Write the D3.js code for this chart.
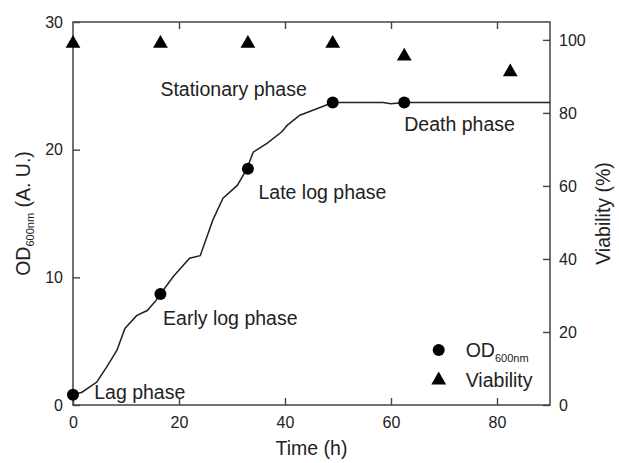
<!DOCTYPE html>
<html>
<head>
<meta charset="utf-8">
<script src="https://cdn.jsdelivr.net/npm/d3@7"></script>
<style>
  body { margin: 0; background: #fff; }
  svg text { font-family: "Liberation Sans", Arial, sans-serif; fill: #222; }
</style>
</head>
<body>
<div id="chart"></div>
<script>
// growth curve (continuous OD trace)
const curveTime = [0, 1.7, 4.5, 6.4, 8.3, 9.8, 12, 14, 15.5, 16.5, 19, 22, 24, 26.4, 28.3, 31, 32.8, 34, 36.6, 39.4, 40.4, 42.8, 46, 49, 55, 58.5, 60, 62.5, 70, 90];
const curveOD = [0.8, 1.0, 1.8, 3.0, 4.3, 6.0, 7.0, 7.4, 8.1, 8.7, 10.1, 11.5, 11.7, 14.5, 16.2, 17.2, 18.5, 19.8, 20.5, 21.4, 21.9, 22.7, 23.2, 23.7, 23.7, 23.7, 23.6, 23.7, 23.7, 23.7];

// sampled points
const odTime = [0, 16.5, 33, 49, 62.5];
const odValue = [0.8, 8.7, 18.5, 23.7, 23.7];
const viaTime = [0, 16.5, 33, 49, 62.5, 82.5];
const viaValue = [99, 99, 99, 99, 95.5, 91.2];

// phase labels
const phaseNames = ["Lag phase", "Early log phase", "Late log phase", "Stationary phase", "Death phase"];
const phaseTime = [4, 17, 35, 16.5, 62.5];
const phaseOD = [0.45, 6.3, 16.1, 24.2, 21.5];

const xTicks = [0, 20, 40, 60, 80];
const yTicks = [0, 10, 20, 30];
const y2Ticks = [0, 20, 40, 60, 80, 100];

const W = 619, H = 463;
const margin = { left: 73, top: 22, right: 69, bottom: 58 };
const iw = W - margin.left - margin.right;
const ih = H - margin.top - margin.bottom;

const svg = d3.select("#chart").append("svg")
  .attr("width", W).attr("height", H);

const g = svg.append("g").attr("transform", `translate(${margin.left},${margin.top})`);

const x = d3.scaleLinear().domain([0, 90]).range([0, iw]);
const y = d3.scaleLinear().domain([0, 30]).range([ih, 0]);
const y2 = d3.scaleLinear().domain([0, 104.9]).range([ih, 0]);

const axisColor = "#444";
const tickFont = "16px";

// axes with inward ticks
function styleAxis(sel) {
  sel.select(".domain").remove();
  sel.selectAll(".tick line").attr("stroke", axisColor).attr("stroke-width", 1.4);
  sel.selectAll(".tick text").style("font-size", tickFont).attr("fill", "#222");
}

g.append("g").attr("transform", `translate(0,${ih})`)
  .call(d3.axisBottom(x).tickValues(xTicks).tickSizeInner(-7).tickPadding(12))
  .call(styleAxis);
g.append("g")
  .call(d3.axisTop(x).tickValues(xTicks.slice(1)).tickSizeInner(-7).tickFormat(""))
  .call(styleAxis);
g.append("g")
  .call(d3.axisLeft(y).tickValues(yTicks).tickSizeInner(-7).tickPadding(10))
  .call(styleAxis);
g.append("g").attr("transform", `translate(${iw},0)`)
  .call(d3.axisRight(y2).tickValues(y2Ticks).tickSizeInner(-7).tickPadding(9))
  .call(styleAxis);

// frame
g.append("rect")
  .attr("width", iw).attr("height", ih)
  .attr("fill", "none").attr("stroke", axisColor).attr("stroke-width", 1.5);

// growth line
const curveData = curveTime.map((t, i) => ({ t, v: curveOD[i] }));
g.append("path")
  .datum(curveData)
  .attr("fill", "none")
  .attr("stroke", "#222")
  .attr("stroke-width", 1.5)
  .attr("d", d3.line().x(d => x(d.t)).y(d => y(d.v)));

// OD markers
g.selectAll(".od")
  .data(odTime.map((t, i) => ({ t, v: odValue[i] })))
  .join("circle")
  .attr("class", "od")
  .attr("cx", d => x(d.t)).attr("cy", d => y(d.v))
  .attr("r", 6).attr("fill", "#000");

// viability markers
const tri = d3.symbol().type(d3.symbolTriangle).size(95);
g.selectAll(".via")
  .data(viaTime.map((t, i) => ({ t, v: viaValue[i] })))
  .join("path")
  .attr("class", "via")
  .attr("transform", d => `translate(${x(d.t)},${y2(d.v)})`)
  .attr("d", tri).attr("fill", "#000");

// phase labels
g.selectAll(".phase")
  .data(phaseNames)
  .join("text")
  .attr("class", "phase")
  .attr("x", (d, i) => x(phaseTime[i]))
  .attr("y", (d, i) => y(phaseOD[i]))
  .style("font-size", "19.5px")
  .text(d => d);

// legend
const leg = g.append("g").attr("transform", `translate(${x(69)},${y(4.3)})`);
leg.append("circle").attr("cx", 0).attr("cy", 0).attr("r", 6).attr("fill", "#000");
const legOD = leg.append("text").attr("x", 27).attr("y", 7).style("font-size", "19.5px");
legOD.append("tspan").text("OD");
legOD.append("tspan").attr("dy", 5).style("font-size", "11px").text("600nm");
leg.append("path").attr("transform", "translate(0,30)").attr("d", tri).attr("fill", "#000");
leg.append("text").attr("x", 27).attr("y", 37).style("font-size", "19.5px").text("Viability");

// axis titles
svg.append("text")
  .attr("x", margin.left + iw / 2).attr("y", 455)
  .attr("text-anchor", "middle")
  .style("font-size", "19.5px")
  .text("Time (h)");

const yt = svg.append("text")
  .attr("transform", `translate(30,${margin.top + ih / 2}) rotate(-90)`)
  .attr("text-anchor", "middle")
  .style("font-size", "19.5px");
yt.append("tspan").text("OD");
yt.append("tspan").attr("dy", 4).style("font-size", "11px").text("600nm");
yt.append("tspan").attr("dy", -4).text(" (A. U.)");

svg.append("text")
  .attr("transform", `translate(610,${margin.top + ih / 2}) rotate(-90)`)
  .attr("text-anchor", "middle")
  .style("font-size", "19.5px")
  .text("Viability (%)");
</script>
</body>
</html>
